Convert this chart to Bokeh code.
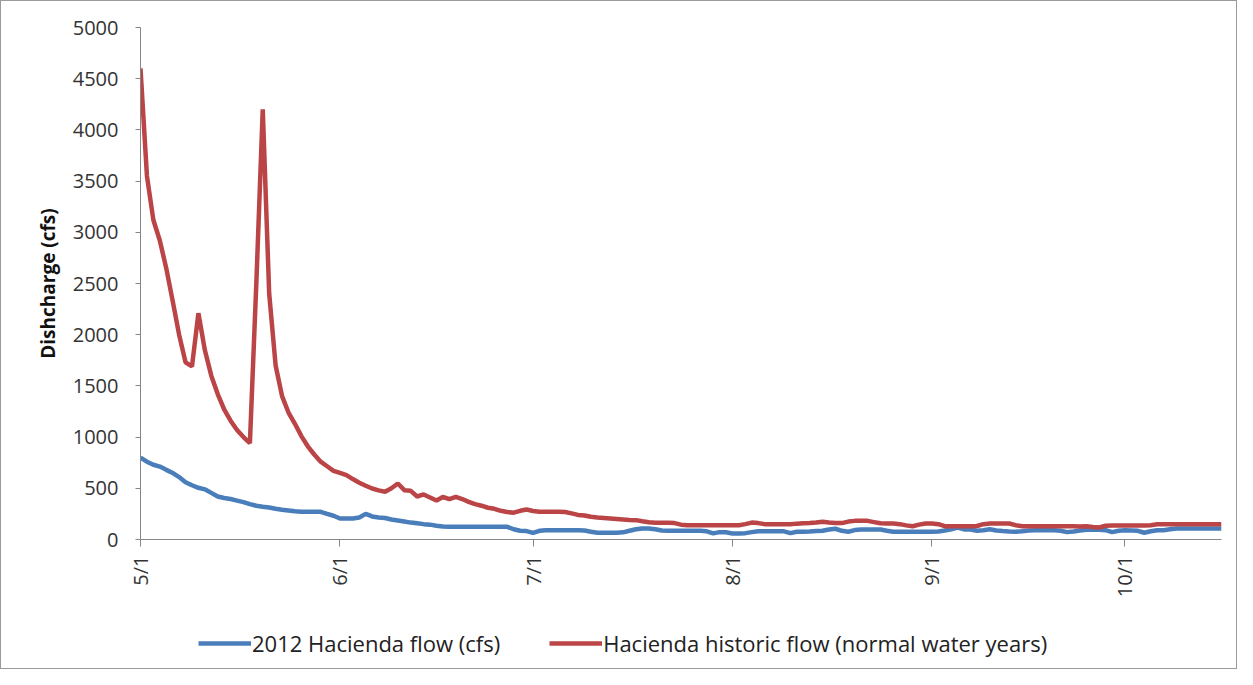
import pandas as pd
from bokeh.plotting import figure
from bokeh.layouts import column
from bokeh.models import (Range1d, FixedTicker, MonthsTicker, DatetimeTickFormatter,
                          Legend, LegendItem)
from bokeh.embed import file_html
from bokeh.resources import INLINE

# ---- data (daily values, 5/1 .. 10/16) ----
start_date = "2012-05-01"

flow_2012 = [
    800, 760, 730, 712, 680, 650, 610, 560, 530, 505,
    490, 455, 420, 405, 395, 380, 365, 345, 330, 320,
    312, 300, 290, 283, 275, 270, 272, 272, 270, 250,
    232, 205, 205, 205, 215, 250, 225, 215, 210, 195,
    185, 175, 165, 158, 150, 145, 135, 126, 124, 124,
    124, 124, 124, 124, 124, 124, 124, 124, 100, 85,
    82, 65, 85, 91, 91, 91, 91, 91, 91, 88,
    75, 65, 65, 65, 65, 70, 85, 100, 107, 107,
    100, 88, 85, 85, 85, 85, 85, 85, 80, 60,
    72, 70, 59, 59, 62, 72, 81, 81, 81, 81,
    80, 62, 75, 75, 78, 82, 85, 98, 105, 85,
    76, 92, 98, 98, 98, 98, 85, 75, 75, 75,
    75, 75, 75, 75, 78, 88, 100, 117, 98, 98,
    85, 90, 100, 88, 82, 78, 75, 80, 88, 91,
    91, 91, 91, 85, 72, 78, 88, 95, 98, 95,
    91, 72, 85, 91, 88, 85, 66, 80, 91, 91,
    100, 107, 107, 107, 107, 107, 107, 107, 107,
]

flow_historic = [
    4600, 3550, 3120, 2920, 2650, 2330, 2000, 1730, 1690, 2210,
    1850, 1600, 1420, 1270, 1160, 1070, 1000, 940, 2500, 4200,
    2400, 1700, 1400, 1240, 1130, 1010, 910, 830, 760, 715,
    670, 650, 628, 590, 555, 525, 498, 480, 466, 500,
    547, 482, 475, 420, 440, 410, 380, 415, 395, 417,
    395, 368, 345, 330, 310, 300, 280, 268, 262, 280,
    293, 278, 270, 270, 270, 270, 268, 255, 240, 235,
    222, 215, 210, 205, 200, 195, 190, 189, 178, 168,
    163, 163, 163, 160, 145, 140, 140, 140, 140, 140,
    140, 140, 140, 140, 150, 165, 160, 150, 150, 150,
    150, 150, 155, 158, 160, 165, 173, 165, 160, 160,
    175, 182, 182, 182, 170, 158, 156, 156, 150, 138,
    130, 145, 156, 156, 150, 130, 130, 130, 130, 130,
    132, 150, 156, 156, 156, 156, 140, 130, 130, 130,
    130, 130, 130, 130, 130, 130, 126, 130, 122, 117,
    135, 137, 137, 137, 137, 137, 137, 140, 148, 150,
    150, 150, 150, 150, 150, 150, 150, 150, 150,
]

series_names = ["2012 Hacienda flow (cfs)", "Hacienda historic flow (normal water years)"]
y_ticks = list(range(0, 5001, 500))
y_axis_title = "Dishcharge (cfs)"

dates = pd.date_range(start_date, periods=len(flow_2012), freq="D")

FONT = "Open Sans"
BLUE = "#4A7EBB"
RED = "#BA4446"

p = figure(width=1235, height=606, x_axis_type="datetime",
           output_backend="svg", toolbar_location=None,
           x_range=Range1d(dates[0], dates[-1]), y_range=Range1d(0, 5000),
           min_border_left=139, min_border_right=15,
           min_border_top=26, min_border_bottom=68)
p.outline_line_color = None
p.xgrid.visible = False
p.ygrid.visible = False
p.background_fill_color = "white"
p.border_fill_color = "white"

p.line(dates, flow_2012, line_color=BLUE, line_width=4.5)
p.line(dates, flow_historic, line_color=RED, line_width=4.5)

# y axis
ya = p.yaxis[0]
ya.ticker = FixedTicker(ticks=y_ticks)
ya.axis_label = y_axis_title
ya.axis_label_text_font = FONT
ya.axis_label_text_font_style = "bold"
ya.axis_label_text_font_size = "19px"
ya.axis_label_text_color = "#111111"
ya.axis_label_standoff = 9
ya.major_label_text_font = FONT
ya.major_label_text_font_size = "20px"
ya.major_label_text_color = "#333333"
ya.major_label_standoff = 17
ya.axis_line_color = "#868686"
ya.major_tick_line_color = "#868686"
ya.major_tick_out = 5
ya.major_tick_in = 0
ya.minor_tick_line_color = None

# x axis
xa = p.xaxis[0]
xa.ticker = MonthsTicker(months=list(range(1, 13)))
fmt = "%-m/%-d"
xa.formatter = DatetimeTickFormatter(days=fmt, months=fmt, years=fmt)
xa.major_label_orientation = 3.14159265 / 2
xa.major_label_text_font = FONT
xa.major_label_text_font_size = "20px"
xa.major_label_text_color = "#333333"
xa.major_label_standoff = 9
xa.axis_line_color = "#868686"
xa.major_tick_line_color = "#868686"
xa.major_tick_out = 7
xa.major_tick_in = 0
xa.minor_tick_line_color = None

# ---- legend strip below the chart (same series, drawn out of its view) ----
lg = figure(width=1235, height=61, x_axis_type="datetime",
            output_backend="svg", toolbar_location=None,
            x_range=Range1d(dates[0], dates[-1]), y_range=Range1d(-2, -1),
            x_axis_location=None, y_axis_location=None,
            min_border_left=0, min_border_right=0,
            min_border_top=0, min_border_bottom=0)
lg.outline_line_color = None
lg.xgrid.visible = False
lg.ygrid.visible = False
lg.border_fill_color = "white"
l1 = lg.line(dates, flow_2012, line_color=BLUE, line_width=4.5)
l2 = lg.line(dates, flow_historic, line_color=RED, line_width=4.5)

legend = Legend(items=[LegendItem(label=series_names[0], renderers=[l1]),
                       LegendItem(label=series_names[1], renderers=[l2])],
                orientation="horizontal", location=(58, 10),
                border_line_color=None, background_fill_alpha=0,
                padding=0, margin=0, spacing=49, glyph_width=53,
                glyph_height=20, label_standoff=1,
                label_text_font=FONT, label_text_font_size="22px",
                label_text_color="#222222")
lg.add_layout(legend, "center")

lay = column(p, lg, spacing=0)
lay.styles = {"border": "1px solid #9a9a9a", "background-color": "white"}

open("out.html", "w").write(file_html(lay, INLINE))
